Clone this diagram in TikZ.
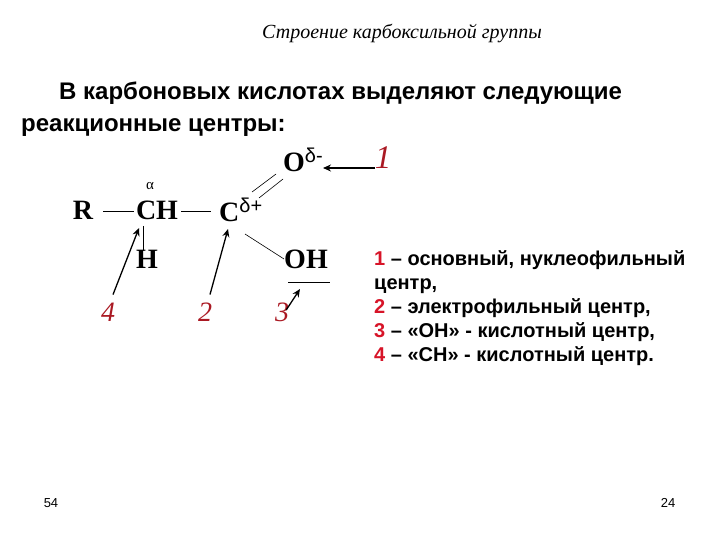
\documentclass[tikz,border=0pt]{standalone}
\usepackage{fontspec}
\setmainfont{Liberation Serif}
\setsansfont{Liberation Sans}
\usetikzlibrary{arrows.meta, positioning, calc}
\definecolor{numred}{RGB}{170,25,35}
\definecolor{listred}{RGB}{215,20,40}
\newcommand{\chargeup}[1]{\raisebox{8.5pt}{\fontsize{20}{20}\selectfont\sffamily\mdseries #1}}
\tikzset{
    atom/.style={
        inner sep=0pt,
        font=\fontsize{28}{28}\selectfont\bfseries,
    },
    centernum/.style={
        inner sep=0pt,
        text=numred,
        font=\fontsize{28}{28}\selectfont\itshape,
    },
    bond/.style={
        -,
        line width=0.6pt,
    },
    pointer/.style={
        -{Stealth[length=8pt,width=7pt]},
        line width=1.3pt,
    },
    headline/.style={
        inner sep=0pt,
        anchor=base west,
        font=\fontsize{24}{24}\selectfont\sffamily\bfseries,
    },
    pagenum/.style={
        inner sep=0pt,
        font=\fontsize{13}{13}\selectfont\sffamily,
    },
}
\begin{document}
\begin{tikzpicture}[x=1pt, y=-1pt]
      \useasboundingbox (0,0) rectangle (720,540);

      \node[inner sep=0pt, font=\fontsize{20}{20}\selectfont\itshape] (title) at (402,34) {Строение карбоксильной группы};
      \node[headline] (line1) at (59,100) {В карбоновых кислотах выделяют следующие};
      \node[headline] (line2) at (21,132) {реакционные центры:};

      \node[atom] (R) at (83,210) {R};
      \node[atom] (CH) at (157,210) {CH};
      \node[atom, anchor=west] (C) at (219,210) {C\chargeup{δ+}};
      \node[atom] (H) at (147,259) {H};
      \node[atom, anchor=west] (O) at (283,160) {O\chargeup{δ-}};
      \node[atom] (OH) at (306,259) {OH};
      \node[inner sep=0pt, font=\fontsize{15}{15}\selectfont] (alpha) at (150,186) {α};

      \node[centernum, font=\fontsize{33}{33}\selectfont\itshape] (n1) at (383,158) {1};
      \node[centernum] (n2) at (205,312) {2};
      \node[centernum] (n3) at (282,312) {3};
      \node[centernum] (n4) at (108,312) {4};

      \coordinate (dbl1a) at (252,192);
      \coordinate (dbl1b) at (276,174);
      \coordinate (dbl2a) at (259,198);
      \coordinate (dbl2b) at (283,179);
      \coordinate (ohbond) at (245,234);
      \coordinate (ohline1) at (288,282);
      \coordinate (ohline2) at (330,282);
      \coordinate (tip1) at (323,168);
      \coordinate (tip2) at (228,229);
      \coordinate (tip3) at (300,289);
      \coordinate (tip4) at (139,228);

      \draw[bond] (R.east |- 0,211) ++(10,0) -- ($(CH.west |- 0,211)+(-2,0)$);
      \draw[bond] (CH.east |- 0,211) ++(3,0) -- ($(C.west |- 0,211)+(-8,0)$);
      \draw[bond] (143,226) -- (H.north -| 143,0);
      \draw[bond] (dbl1a) -- (dbl1b);
      \draw[bond] (dbl2a) -- (dbl2b);
      \draw[bond] (ohbond) -- (OH.west);
      \draw[bond] (ohline1) -- (ohline2);

      \draw[pointer] (n1.south west |- tip1) -- (tip1);
      \draw[pointer] (n2.north) ++(5,-8) -- (tip2);
      \draw[pointer] (n3.east) ++(-3,-2) -- (tip3);
      \draw[pointer] (n4.north) ++(5,-8) -- (tip4);

      \node[inner sep=0pt, anchor=north west, align=left, font=\fontsize{20}{24.2}\selectfont\sffamily\bfseries] (legend) at (374,250) {\textcolor{listred}{1} – основный, нуклеофильный\\центр,\\\textcolor{listred}{2} – электрофильный центр,\\\textcolor{listred}{3} – «ОН» - кислотный центр,\\\textcolor{listred}{4} – «СН» - кислотный центр.};

      \node[pagenum] (page1) at (51,503) {54};
      \node[pagenum] (page2) at (668,503) {24};

    \end{tikzpicture}
\end{document}
